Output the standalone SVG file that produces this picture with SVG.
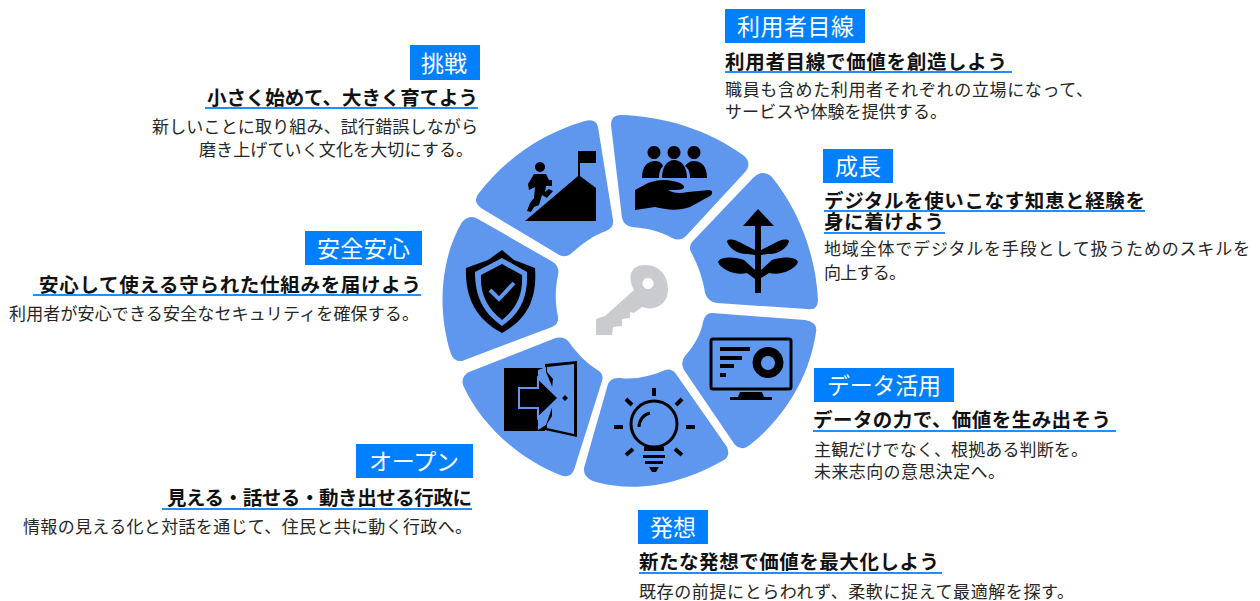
<svg xmlns="http://www.w3.org/2000/svg" width="1260" height="601" viewBox="0 0 1260 601">
<style>
text{font-family:"Noto Sans CJK JP","Noto Sans",sans-serif}
.h{fill:#fff;font-size:23px}
.t{fill:#111;font-size:19.5px;font-weight:700}
.b{fill:#262626;font-size:17px}
.tag{fill:#0080ff}
.ul{stroke:#1f8fff;stroke-width:2;fill:none}
.seg{fill:#5f97ef}
.k{fill:#000}
.ks{fill:none;stroke:#000;stroke-width:3}
.bl{fill:#5f97ef}
</style>
<rect width="1260" height="601" fill="#fff"/>
<g id="wheel-center"><path fill="#c9cbce" d="M596 335V319L605 316L634 290C627 276 631 265 645 265C660 265 668 276 668 290C668 303 656 312 642 307L634 313L630 312V318L622 319V326L613 327L612 335ZM648 278a5.500 5.500 0 1 0 .01 0Z" fill-rule="evenodd"/></g>
<g id="node-user">
<path class="seg" d="M620 115C664 116 708 130 743 155Q752 162 746 171L686 236Q680 242 672 238C660 231 646 228 632 227Q624 226 622 218L611 125Q611 115 620 115Z"/>
<path class="k" d="M654 146a6.500 6.500 0 1 0 .01 0ZM674 146a6.500 6.500 0 1 0 .01 0ZM694 146a6.500 6.500 0 1 0 .01 0ZM642 178C642 166 648 161 655 161C659 161 662 163 663 166C660 169 659 173 659 178ZM662 178C662 166 668 160 674 160C681 160 687 166 687 178ZM690 178C690 173 689 169 685 166C687 163 690 161 694 161C701 161 707 166 707 178ZM635 190L648 183C660 178 672 180 680 183C686 186 686 190 676 190H668C673 193 679 194 688 192L709 190C713 190 713 194 710 196L690 207C676 212 665 209 655 207L635 210Z"/>
<text class="h" x="736" y="35" textLength="118" lengthAdjust="spacing" style="display:none"></text>
<rect class="tag" x="725" y="9" width="140" height="34"/>
<text class="h" x="737" y="35" textLength="117">利用者目線</text>
<text class="t" x="725" y="69" textLength="282">利用者目線で価値を創造しよう</text>
<path class="ul" d="M725 72H1012"/>
<text class="b" x="725" y="96" textLength="368">職員も含めた利用者それぞれの立場になって、</text>
<text class="b" x="725" y="118" textLength="222">サービスや体験を提供する。</text>
</g>
<g id="node-growth">
<path class="seg" d="M753 178Q762 169 771 176C798 208 816 255 818 300Q818 311 807 309L717 303Q708 302 705 293C703 279 698 265 691 252Q688 246 693 241Z"/>
<path class="k" d="M758 209L774 226H761V250L773 244C779 240 787 238 789 241C788 248 777 255 768 254L761 255V270L772 260C780 257 795 256 798 262C795 270 780 276 769 273L761 278V293H755V279L747 273C736 276 721 270 718 262C721 256 736 257 744 260L755 270V255L748 254C739 255 728 248 727 241C729 238 737 240 743 244L755 250V226H743Z"/>
<rect class="tag" x="823" y="149" width="70" height="34"/>
<text class="h" x="835" y="175" textLength="46">成長</text>
<text class="t" x="824" y="208" textLength="321">デジタルを使いこなす知恵と経験を</text>
<text class="t" x="824" y="229" textLength="120">身に着けよう</text>
<path class="ul" d="M824 211H1145M824 233H945"/>
<text class="b" x="824" y="255" textLength="426">地域全体でデジタルを手段として扱うためのスキルを</text>
<text class="b" x="824" y="279" textLength="82">向上する。</text>
</g>
<g id="node-data">
<path class="seg" d="M712 313L805 320Q818 322 816 332C810 375 786 416 751 444Q742 452 735 445L684 370Q680 362 685 356C695 345 701 333 703 322Q705 313 712 313Z"/>
<rect class="ks" x="711" y="339" width="80" height="50" rx="2"/>
<path class="k" d="M720 347H750V351H720ZM720 356H742V360H720ZM720 364H734V368H720ZM720 373H726V377H720ZM740 392H762L764 397H772V400H730V397H738Z"/>
<path class="k" fill-rule="evenodd" d="M768 347a15.500 15.500 0 1 0 .01 0ZM768 356a7 7 0 1 1-.01 0Z"/>
<rect class="tag" x="814" y="368" width="140" height="34"/>
<text class="h" x="827" y="394" textLength="114">データ活用</text>
<text class="t" x="813" y="427" textLength="298">データの力で、価値を生み出そう</text>
<path class="ul" d="M813 431H1116"/>
<text class="b" x="814" y="456" textLength="274">主観だけでなく、根拠ある判断を。</text>
<text class="b" x="814" y="478" textLength="191">未来志向の意思決定へ。</text>
</g>
<g id="node-idea">
<path class="seg" d="M620 378C635 380 652 376 665 370Q672 368 676 374L727 447Q731 457 722 461C685 482 640 494 596 482Q583 478 584 468L608 384Q611 377 620 378Z"/>
<circle class="ks" cx="654" cy="424" r="23"/>
<path class="ks" d="M639 427C639 420 644 414 650 413"/>
<path class="ks" stroke-width="4" style="stroke-width:4" d="M654 388V396M626 399L632 405M682 399L676 405M614 427H623M686 427H695M626 455L633 449M682 455L675 449"/>
<path class="k" d="M644 447H664V451H644ZM643 455H665V458H643ZM645 461H663V464H645ZM649 467H659L656 472H652Z"/>
<rect class="tag" x="638" y="510" width="70" height="34"/>
<text class="h" x="650" y="536" textLength="46">発想</text>
<text class="t" x="639" y="569" textLength="300">新たな発想で価値を最大化しよう</text>
<path class="ul" d="M639 573H942"/>
<text class="b" x="639" y="598" textLength="435">既存の前提にとらわれず、柔軟に捉えて最適解を探す。</text>
</g>
<g id="node-open">
<path class="seg" d="M469 372L553 339Q563 335 569 342C577 354 588 364 599 371Q604 375 602 381L574 470Q570 479 560 475C518 458 481 425 463 385Q461 376 469 372Z"/>
<path class="k" d="M504 368H543L545 374V364L577 361V437L545 430V431H504ZM547 367V372L553 379L552 388H520V392H552V404H520L552 405V416L547 424V428L574 434V364Z" fill-rule="evenodd"/>
<path class="bl" d="M538 370L546 367L546 372L556 396L546 425L538 430Z"/>
<path class="k" d="M520 389H539V380L557 398L539 416V407H520ZM565 395l3 3-3 3-3-3Z"/>
<path fill="none" stroke="#5f97ef" stroke-width="2" d="M519 388H538V378L559 398L538 418V408H519Z"/>
<rect class="tag" x="356" y="444" width="117" height="34"/>
<text class="h" x="369" y="470" textLength="90">オープン</text>
<text class="t" x="167" y="505" textLength="305">見える・話せる・動き出せる行政に</text>
<path class="ul" d="M162 509H472"/>
<text class="b" x="23" y="533" textLength="449">情報の見える化と対話を通じて、住民と共に動く行政へ。</text>
</g>
<g id="node-safety">
<path class="seg" d="M462 222Q470 214 478 219L553 262Q560 267 558 275C555 289 555 303 558 317Q559 324 552 327L462 361Q454 362 451 354C437 310 440 260 462 222Z"/>
<path class="k" d="M502 250L514 260L535 268C537 295 530 318 502 333C474 318 465 295 466 268L488 260Z"/>
<path class="bl" d="M502 258L527 272C528 295 522 312 502 326C482 312 475 295 475 272Z"/>
<path class="k" d="M502 264L522 275C523 294 517 308 502 320C487 308 480 294 481 275Z"/>
<path fill="none" stroke="#5f97ef" stroke-width="4" d="M490 290L499 299L514 283"/>
<rect class="tag" x="305" y="231" width="117" height="34"/>
<text class="h" x="317" y="257" textLength="93">安全安心</text>
<text class="t" x="39" y="292" textLength="382">安心して使える守られた仕組みを届けよう</text>
<path class="ul" d="M33 295H421"/>
<text class="b" x="9" y="320" textLength="410">利用者が安心できる安全なセキュリティを確保する。</text>
</g>
<g id="node-challenge">
<path class="seg" d="M585 121Q596 118 598 127L613 220Q614 228 606 231C594 235 583 243 573 252Q565 260 556 253L481 208Q472 201 479 193C506 158 543 133 585 121Z"/>
<path class="k" d="M578 151H596V163H580V176L596 188V221H525L578 176Z"/>
<path class="k" d="M540 162a5 5 0 1 0 .01 0ZM534 174H546L549 180H552L552 186L546 186L545 192L549 189L553 191L547 198L542 195L539 205L534 207L531 212L527 211L530 203L534 198L535 187L529 190L528 184Z"/>
<rect class="tag" x="410" y="45" width="70" height="35"/>
<text class="h" x="421" y="72" textLength="46">挑戦</text>
<text class="t" x="207" y="105" textLength="271">小さく始めて、大きく育てよう</text>
<path class="ul" d="M205 108H478"/>
<text class="b" x="152" y="133" textLength="326">新しいことに取り組み、試行錯誤しながら</text>
<text class="b" x="199" y="156" textLength="274">磨き上げていく文化を大切にする。</text>
</g>
</svg>
